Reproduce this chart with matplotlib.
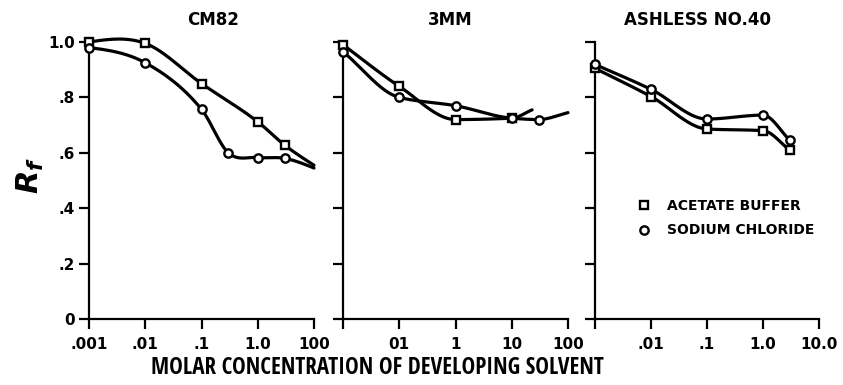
import numpy as np
import matplotlib
matplotlib.use("Agg")
import matplotlib.pyplot as plt
from matplotlib.lines import Line2D
from matplotlib import font_manager

# ---------------- data ----------------
panel_titles = ["CM82", "3MM", "ASHLESS NO.40"]

cm82_acetate_x = [0.001, 0.01, 0.1, 1.0, 3.0]
cm82_acetate_y = [1.00, 0.995, 0.85, 0.712, 0.628]
cm82_acetate_end = (10.0, 0.555)
cm82_sodium_x = [0.001, 0.01, 0.1, 0.3, 1.0, 3.0]
cm82_sodium_y = [0.98, 0.925, 0.757, 0.60, 0.583, 0.58]
cm82_sodium_end = (10.0, 0.545)

mm3_acetate_x = [0.001, 0.01, 0.1, 1.0]
mm3_acetate_y = [0.99, 0.84, 0.72, 0.725]
mm3_acetate_end = (2.3, 0.755)
mm3_sodium_x = [0.001, 0.01, 0.1, 1.0, 3.0]
mm3_sodium_y = [0.965, 0.80, 0.77, 0.725, 0.72]
mm3_sodium_end = (10.0, 0.745)

ash_acetate_x = [0.001, 0.01, 0.1, 1.0, 3.0]
ash_acetate_y = [0.905, 0.803, 0.686, 0.680, 0.610]
ash_sodium_x = [0.001, 0.01, 0.1, 1.0, 3.0]
ash_sodium_y = [0.919, 0.829, 0.722, 0.736, 0.646]

x_ticks = [0.001, 0.01, 0.1, 1.0, 10.0]
x_ticklabels = [
    [".001", ".01", ".1", "1.0", "100"],
    ["", "01", "1", "10", "100"],
    ["", ".01", ".1", "1.0", "10.0"],
]
y_ticks = [0, 0.2, 0.4, 0.6, 0.8, 1.0]
y_ticklabels = ["0", ".2", ".4", ".6", ".8", "1.0"]

legend_labels = ["ACETATE BUFFER", "SODIUM CHLORIDE"]
x_label = "MOLAR CONCENTRATION OF DEVELOPING SOLVENT"

# ---------------- helpers ----------------
def hermite(u, v, m, n=30):
    U, V = [], []
    for i in range(len(u) - 1):
        h = u[i + 1] - u[i]
        t = np.linspace(0, 1, n, endpoint=(i == len(u) - 2))
        h00 = 2 * t**3 - 3 * t**2 + 1
        h10 = t**3 - 2 * t**2 + t
        h01 = -2 * t**3 + 3 * t**2
        h11 = t**3 - t**2
        U.append(u[i] + t * h)
        V.append(h00 * v[i] + h10 * h * m[i] + h01 * v[i + 1] + h11 * h * m[i + 1])
    return np.concatenate(U), np.concatenate(V)


def smooth_curve(xs, ys, mode="catmull"):
    """Smooth drawing path through the given points (log-x space)."""
    u = np.log10(np.asarray(xs, float))
    v = np.asarray(ys, float)
    d = np.diff(v) / np.diff(u)
    m = np.empty_like(v)
    if mode == "catmull":
        m[1:-1] = (d[:-1] + d[1:]) / 2
        m[0] = 0.5 * ((2 * d[0] - m[1]) + d[0])
        m[-1] = 0.5 * ((2 * d[-1] - m[-2]) + d[-1])
    else:  # monotone (Fritsch-Carlson style)
        for i in range(1, len(v) - 1):
            if d[i - 1] * d[i] <= 0:
                m[i] = 0.0
            else:
                m[i] = 2.0 / (1.0 / d[i - 1] + 1.0 / d[i])
        m[0] = d[0]
        m[-1] = d[-1]
    U, V = hermite(u, v, m)
    return 10 ** U, V


plt.rcParams["font.family"] = ["DejaVu Sans"]
plt.rcParams["font.weight"] = "bold"
plt.rcParams["mathtext.fontset"] = "custom"
plt.rcParams["mathtext.it"] = "DejaVu Sans:italic:bold"
plt.rcParams["mathtext.rm"] = "DejaVu Sans:bold"

fig = plt.figure(figsize=(8.43, 3.85), dpi=100)
W, H = 843.0, 385.0
lefts = [89, 343, 595]
rights = [314, 568, 819]
y0, y1 = 319, 42

LW = 2.3
mk = dict(markersize=6, markerfacecolor="white", markeredgecolor="black",
          markeredgewidth=1.7, color="black", linestyle="none")

series = [
    [(cm82_acetate_x, cm82_acetate_y, cm82_acetate_end, "s"),
     (cm82_sodium_x, cm82_sodium_y, cm82_sodium_end, "o")],
    [(mm3_acetate_x, mm3_acetate_y, mm3_acetate_end, "s"),
     (mm3_sodium_x, mm3_sodium_y, mm3_sodium_end, "o")],
    [(ash_acetate_x, ash_acetate_y, None, "s"),
     (ash_sodium_x, ash_sodium_y, None, "o")],
]
modes = ["catmull", "mono", "mono"]

axes = []
for k in range(3):
    ax = fig.add_axes([lefts[k] / W, (H - y0) / H, (rights[k] - lefts[k]) / W, (y0 - y1) / H])
    axes.append(ax)
    ax.set_xscale("log")
    ax.set_xlim(0.001, 10)
    ax.set_ylim(0, 1.0)
    for s in ["top", "right"]:
        ax.spines[s].set_visible(False)
    for s in ["left", "bottom"]:
        ax.spines[s].set_linewidth(1.6)
    ax.set_xticks(x_ticks)
    ax.set_xticklabels(x_ticklabels[k])
    ax.xaxis.set_minor_locator(matplotlib.ticker.NullLocator())
    ax.set_yticks(y_ticks)
    if k == 0:
        ax.set_yticklabels(y_ticklabels)
    else:
        ax.set_yticklabels([""] * len(y_ticks))
    ax.tick_params(axis="both", direction="out", length=7, width=1.6,
                   labelsize=11, pad=3)
    ax.tick_params(axis="x", pad=6)
    for lab in ax.get_xticklabels() + ax.get_yticklabels():
        lab.set_fontweight("bold")

    for xs, ys, end, marker in series[k]:
        cx, cy = list(xs), list(ys)
        if end is not None:
            cx = cx + [end[0]]
            cy = cy + [end[1]]
        sx, sy = smooth_curve(cx, cy, modes[k])
        ax.plot(sx, sy, color="black", linewidth=LW, clip_on=False, zorder=3,
                solid_capstyle="round", solid_joinstyle="round")
        ax.plot(xs, ys, marker=marker, clip_on=False, zorder=4, **mk)

    title_x = [213, 450, 698][k] / W
    fig.text(title_x, 1 - 20 / H, panel_titles[k], ha="center", va="center",
             fontsize=12, fontweight="bold")

# legend on third panel
handles = [Line2D([], [], marker="s", **mk), Line2D([], [], marker="o", **mk)]
axes[2].legend(handles, legend_labels, loc="upper left",
               bbox_to_anchor=(637 / W, 1 - 199 / H), bbox_transform=fig.transFigure,
               frameon=False, handlelength=1.0, handletextpad=1.15,
               labelspacing=0.75, borderpad=0, borderaxespad=0,
               prop={"size": 10, "weight": "bold"})

fig.text(30 / W, 1 - 175 / H, r"$R_f$", rotation=90, ha="center", va="center",
         fontsize=22)

# x label: use the narrowest installed sans face so the text can be tall yet fit the width
renderer = fig.canvas.get_renderer()
ttf = font_manager.fontManager.ttflist
installed = {f.name for f in ttf}
candidates = []
for fam in ["Liberation Sans Narrow", "Roboto Condensed", "Open Sans Condensed",
            "Noto Sans Condensed", "DejaVu Sans Condensed", "Lato", "Roboto",
            "Inter", "Noto Sans", "Open Sans", "Liberation Sans", "DejaVu Sans"]:
    if fam in installed:
        candidates.append(dict(family=[fam]))
for f in ttf:
    if str(f.stretch) in ("condensed", "semi-condensed", "extra-condensed") \
            and f.name in ("Noto Sans", "DejaVu Sans", "Open Sans", "Roboto"):
        c = dict(family=[f.name], fontstretch=str(f.stretch))
        if c not in candidates:
            candidates.append(c)

best = None
for c in candidates:
    t = fig.text(0, 0, x_label, fontsize=17, fontweight="bold", **c)
    w = t.get_window_extent(renderer).width
    t.remove()
    if best is None or w < best[0]:
        best = (w, c)

target = 451.0
size = min(18.0, 17 * target / best[0])
fig.text(377 / W, 1 - 368 / H, x_label, ha="center", va="center",
         fontsize=size, fontweight="bold", **best[1])

fig.savefig("out.png", dpi=100)
